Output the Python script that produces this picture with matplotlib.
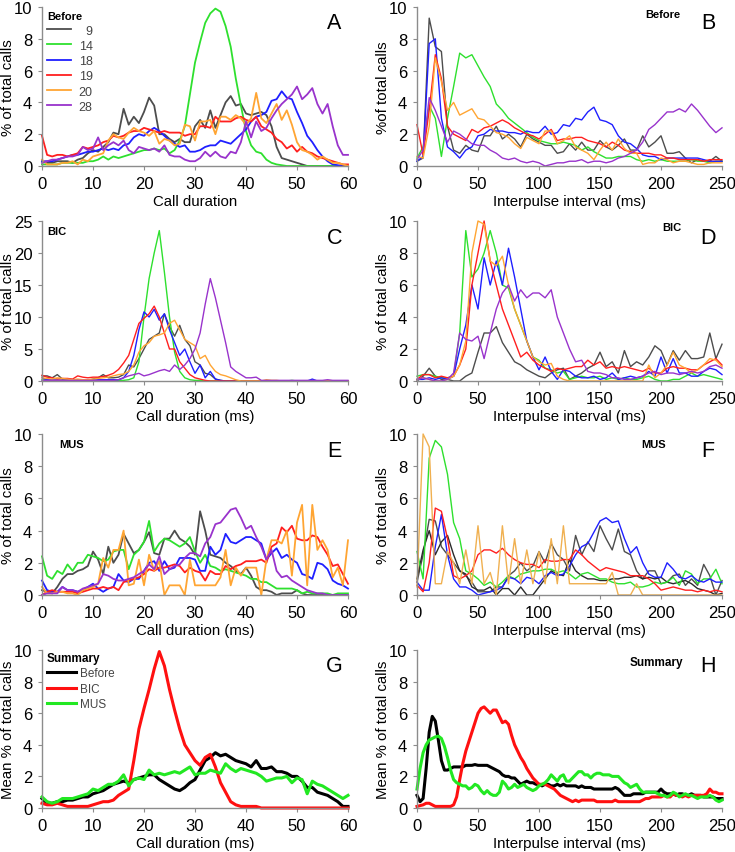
import numpy as np
import matplotlib
matplotlib.use("Agg")
import matplotlib.pyplot as plt

plt.rcParams['font.family'] = ['Liberation Sans', 'DejaVu Sans']

# ---------------- data ----------------
dur_x = np.arange(0, 61, 1)          # call duration bins (ms)
ipi_x = np.arange(0, 251, 5)         # interpulse interval bins (ms)
ipi_sum_x = np.arange(0, 250.1, 2.5) # summary interpulse bins (ms)

bat_labels = ['9', '14', '18', '19', '20', '28']

a9 = [0.3,0.2,0.2,0.3,0.3,0.3,0.2,0.4,0.5,0.8,
      1.0,0.9,1.2,1.5,2.1,2.0,3.6,2.6,3.1,2.7,
      3.4,4.3,3.8,2.0,2.0,1.7,1.5,1.7,1.5,1.5,
      2.5,2.9,2.4,3.5,2.4,3.2,4.0,4.4,3.8,3.9,
      3.3,3.2,3.3,3.4,3.2,2.5,1.2,0.5,0.4,0.3,
      0.2,0.1,0.0,0,0,0,0,0,0,0,
      0]
a14 = [0.1,0.1,0.1,0.1,0.2,0.2,0.2,0.2,0.2,0.3,
       0.3,0.4,0.6,0.4,0.6,0.5,0.6,0.7,0.8,0.9,
       1.0,1.0,1.1,1.0,1.1,0.8,1.0,1.6,2.5,4.5,
       6.5,7.8,9.0,9.6,9.9,9.7,8.8,7.5,5.5,3.8,
       2.2,1.3,0.9,0.8,0.4,0.2,0.1,0.05,0,0,
       0,0,0,0,0,0,0,0,0,0,
       0]
a18 = [0.3,0.3,0.3,0.4,0.5,0.6,0.7,0.7,0.8,0.9,
       0.9,1.0,1.1,1.0,1.1,1.0,1.3,1.4,1.8,2.0,
       1.9,2.2,2.4,2.2,1.9,1.6,1.4,1.2,1.3,0.9,
       0.9,1.0,1.2,1.3,1.3,1.6,1.5,1.4,1.7,2.0,
       2.3,2.8,3.1,3.2,3.4,4.1,4.2,4.7,4.3,4.2,
       3.4,2.7,1.9,1.5,1.0,0.6,0.3,0.1,0.05,0,
       0]
a19 = [1.9,0.7,0.6,0.7,0.7,0.6,0.7,0.8,1.2,1.1,
       1.2,1.3,1.5,1.6,1.9,1.8,1.9,2.1,2.2,2.2,
       2.4,2.3,2.2,2.1,2.2,2.1,2.1,2.1,1.9,2.0,
       2.0,2.5,2.5,2.4,3.1,2.8,2.8,2.8,3.0,3.1,
       2.9,2.8,3.1,2.5,2.3,2.1,1.7,1.5,1.1,1.3,
       0.9,1.2,0.9,0.8,0.6,0.5,0.4,0.3,0.2,0.1,
       0.1]
a20 = [0.4,0.1,0.1,0.1,0.2,0.2,0.3,0.1,0.4,0.3,
       0.6,0.7,0.8,1.6,2.0,1.8,1.7,2.1,2.4,2.2,
       2.1,1.9,2.2,1.4,1.7,1.6,1.3,1.4,2.6,2.5,
       1.6,2.8,2.8,2.9,2.0,3.1,3.1,2.9,3.2,3.0,
       2.6,3.0,4.6,3.0,2.7,3.3,3.9,2.9,3.5,2.6,
       1.5,1.0,0.9,0.7,0.4,0.6,0.4,0.2,0.2,0.1,
       0.0]
a28 = [0.2,0.3,0.4,0.4,0.5,0.6,0.6,0.7,1.2,1.0,
       1.1,1.8,1.0,1.3,1.5,1.3,1.6,1.0,0.8,1.2,
       1.1,1.0,1.1,0.9,1.3,0.7,0.6,0.6,0.4,0.3,
       0.3,0.5,0.9,0.6,0.9,0.6,0.5,0.9,0.8,1.5,
       2.8,1.8,2.8,2.2,2.4,3.0,3.5,3.9,4.2,4.5,
       5.0,4.2,4.5,4.9,3.9,3.3,3.9,2.5,1.3,0.7,
       0.7]

b9 = [0.3,0.5,9.3,7.5,7.2,2.5,1.0,0.8,1.3,1.0,
      0.9,1.9,1.9,2.5,1.7,2.0,1.7,1.2,2.0,1.7,
      1.5,1.3,1.3,0.8,0.9,1.4,1.0,1.5,1.0,1.0,
      1.6,1.2,1.0,1.3,1.7,1.0,1.0,1.9,1.2,1.5,
      1.9,0.8,0.8,0.9,0.5,0.2,0.4,0.3,0.3,0.6,
      0.3]
b14 = [0.5,1.2,3.8,3.0,0.6,3.0,5.0,7.1,6.8,7.0,
       6.3,5.6,5.0,3.9,3.5,3.0,2.7,2.4,2.1,1.8,
       1.6,1.5,1.4,1.4,1.5,1.4,1.3,1.0,1.2,0.9,
       0.7,0.5,0.5,0.6,0.6,0.6,0.4,0.3,0.4,0.3,
       0.4,0.3,0.3,0.3,0.3,0.4,0.3,0.3,0.2,0.3,
       0.3]
b18 = [0.3,0.6,7.7,8.0,3.0,1.2,0.9,0.5,1.0,1.2,
       1.9,2.0,2.3,2.2,2.2,2.1,2.1,2.0,2.2,2.1,
       2.1,2.5,2.0,2.1,2.6,2.5,3.0,2.9,3.4,3.7,
       2.9,2.8,2.6,1.9,1.5,1.4,1.1,0.7,0.6,0.6,
       0.4,0.5,0.5,0.5,0.5,0.5,0.5,0.4,0.3,0.3,
       0.3]
b19 = [2.6,0.7,3.5,7.0,5.5,2.5,2.0,1.8,1.6,2.3,
       2.1,2.4,2.5,2.7,2.9,2.7,2.4,2.2,2.0,1.9,
       1.7,2.0,2.3,1.6,1.7,1.7,1.8,1.8,1.6,1.5,
       1.4,1.2,1.5,1.3,1.0,0.9,0.8,0.8,0.8,0.7,
       0.7,0.5,0.5,0.4,0.4,0.4,0.4,0.3,0.4,0.4,
       0.4]
b20 = [0.6,0.5,2.5,6.8,5.3,3.5,4.0,3.2,3.4,3.6,
       3.0,2.9,2.5,2.1,2.0,1.8,1.4,1.1,1.8,1.6,
       1.4,2.2,2.2,1.4,1.6,1.9,1.2,1.0,0.8,0.4,
       1.0,1.5,1.0,1.7,1.1,0.8,0.8,0.1,0.2,0.2,
       0.5,0.4,0.2,0.3,0.3,0.2,0.1,0.1,0.2,0.2,
       0.2]
b28 = [0.4,1.0,4.3,3.5,2.5,1.5,2.2,2.0,1.7,1.4,
       1.3,1.3,1.0,0.8,0.5,0.4,0.5,0.3,0.2,0.3,
       0.2,0.0,0.1,0.2,0.2,0.3,0.3,0.4,0.2,0.3,
       0.3,0.2,0.3,0.5,0.6,0.8,1.0,1.5,2.3,2.6,
       3.0,3.4,3.4,3.6,3.4,3.9,3.5,3.0,2.5,2.1,
       2.4]

c9 = [0.8,0.8,0.5,1.0,0.3,0.3,0.2,0.1,0.1,0.1,
      0.3,0.5,1.0,0.5,0.5,0.6,1.0,2.5,2.2,3.5,
      5.0,6.5,7.0,7.5,10.5,8.5,7.0,8.7,6.5,5.5,
      3.0,2.5,1.2,1.0,0.3,0.1,0,0,0,0,
      0,0,0,0,0,0,0,0,0,0,
      0,0,0,0,0,0,0,0,0,0,
      0]
c14 = [0.2,0.2,0.1,0.1,0.1,0.1,0.1,0.1,0.1,0.1,
       0.1,0.1,0.1,0.1,0.1,0.1,0.1,0.2,0.5,3.0,
       10.0,16.0,20.0,23.5,17.0,10.0,4.5,1.5,0.5,0.2,
       0.1,0.1,0,0,0,0,0,0,0,0,
       0,0,0,0,0,0,0,0,0,0.1,
       0,0,0,0,0,0,0,0,0,0,
       0]
c18 = [0.5,0.2,0.2,0.1,0.1,0.1,0.1,0.1,0.1,0.1,
       0.1,0.2,0.2,0.2,0.2,0.2,0.5,1.5,4.0,8.0,
       10.8,10.0,11.2,9.5,10.5,8.0,6.0,4.0,5.0,3.0,
       1.2,2.5,0.5,1.5,0.3,0.1,0,0,0,0,
       0,0,0,0,0,0,0,0,0,0,
       0,0,0,0.3,0,0,0,0,0,0,
       0]
c19 = [0.9,0.6,0.5,0.3,0.4,0.4,0.3,0.8,0.6,0.5,
       0.6,0.6,0.7,0.9,1.2,1.8,2.8,4.0,6.5,9.0,
       9.8,10.5,11.7,10.0,7.5,5.0,5.0,3.0,2.0,1.0,
       0.5,0.3,0.1,0,0,0,0,0,0,0,
       0,0,0,0,0,0,0,0,0,0,
       0,0,0,0,0,0,0,0,0,0,
       0]
c20 = [0.5,0.4,0.3,0.5,0.4,0.3,0.2,0.3,0.2,0.2,
       0.3,0.4,0.5,0.6,0.8,1.0,1.1,1.5,2.5,4.5,
       5.5,6.0,7.0,7.2,7.5,9.0,9.5,8.0,6.5,6.0,
       5.5,3.5,4.0,2.5,1.5,1.0,0.8,0.5,0.2,0,
       0,0,0,0,0.2,0.1,0.1,0,0,0,
       0,0,0,0,0,0,0,0,0,0,
       0]
c28 = [0.1,0.1,0.1,0.1,0.1,0.1,0.1,0.1,0.1,0.1,
       0.1,0.1,0.1,0.1,0.1,0.2,0.5,0.8,1.0,1.2,
       0.8,1.0,1.3,1.6,1.8,1.5,2.5,1.8,2.5,3.5,
       5.0,7.5,12.0,16.0,13.0,9.5,6.0,2.2,1.5,1.0,
       0.5,0.5,0.6,0.1,0.1,0.1,0.1,0.1,0.1,0.1,
       0.1,0.1,0.1,0.1,0.1,0.1,0.2,0.1,0.1,0.1,
       0.1]

d9 = [0.0,0.3,0.8,0.3,0.1,0.1,0.0,0.0,0.3,0.5,
      1.8,3.0,3.0,3.4,2.4,1.8,1.2,1.0,0.7,0.5,
      0.3,0.2,0.5,0.7,0.8,0.1,0.3,0.5,0.8,1.0,
      1.8,0.9,1.2,0.5,1.9,0.9,1.2,1.0,1.5,2.2,
      1.9,1.0,1.9,1.3,1.9,1.4,1.4,1.5,3.0,1.4,
      2.3]
d14 = [0.3,0.4,0.4,0.3,0.2,0.2,0.3,3.0,9.4,6.5,
       7.0,8.0,9.4,8.0,6.0,5.8,4.5,3.5,2.5,1.5,
       1.3,0.8,0.7,0.5,0.6,0.1,0.2,0.3,0.2,0.2,
       0.3,0.1,0.2,0.1,0.2,0.1,0.1,0.2,0.3,0.1,
       0.0,0.0,0.1,0.1,0.3,0.5,0.3,0.4,0.3,0.2,
       0.1]
d18 = [0.1,0.1,0.2,0.1,0.2,0.1,0.3,2.0,3.5,6.0,
       4.5,7.7,6.0,7.5,6.0,8.3,6.5,4.5,2.5,1.5,
       0.7,1.5,0.6,0.1,0.7,0.6,0.3,0.2,0.2,0.3,
       0.1,0.2,0.5,0.1,0.2,0.3,0.2,0.3,0.6,0.3,
       1.5,0.5,1.4,0.5,0.5,0.3,0.3,0.6,0.8,0.7,
       0.4]
d19 = [0.1,0.4,0.4,0.2,0.3,0.2,0.3,1.0,2.0,6.0,
       8.0,10.0,7.5,6.0,4.5,3.5,2.5,1.5,1.8,1.3,
       1.0,0.8,0.6,0.8,0.7,0.8,0.9,0.9,1.3,1.0,
       1.2,0.8,0.9,0.8,0.9,0.8,0.7,0.6,0.8,0.5,
       0.5,0.8,0.9,0.8,0.8,0.7,0.7,1.0,1.2,1.4,
       1.0]
d20 = [0.1,0.2,0.1,0.0,0.0,0.1,0.3,1.0,2.5,8.0,
       10.0,9.8,7.5,7.2,7.8,6.0,4.5,3.5,2.5,1.5,
       1.2,1.0,1.1,0.3,0.1,0.0,0.0,0.0,0.0,0.0,
       0.0,0.0,0.0,0.0,0.0,0.0,0.0,0.0,1.0,0.2,
       0.5,1.0,1.8,1.0,0.8,0.5,0.7,1.0,1.4,1.3,
       0.9]
d28 = [0.1,0.2,0.1,0.0,0.0,0.1,0.5,3.0,2.6,2.5,
       2.8,1.4,3.0,4.5,5.5,6.0,5.0,5.7,5.2,5.5,
       5.5,5.2,5.7,4.0,3.0,2.0,1.2,1.3,0.6,0.5,
       0.5,0.4,0.2,0.2,0.1,0.1,0.2,0.3,0.5,0.6,
       0.4,0.5,0.5,0.4,0.5,0.6,0.5,0.6,0.9,1.0,
       0.8]

e9 = [0.3,0.2,0.1,0.5,1.0,1.3,1.3,1.5,1.6,1.8,
      2.7,2.2,1.3,3.0,2.0,2.5,3.8,3.2,2.6,2.8,
      3.3,3.9,2.6,2.5,3.5,3.5,4.0,3.5,3.3,3.0,
      2.5,5.2,4.0,2.5,2.4,2.3,2.0,1.8,1.5,1.3,
      1.7,1.2,0.5,0.3,0.3,0.2,0.0,0.1,0.1,0.1,
      0.3,0.1,0,0,0,0,0,0,0,0,
      0]
e14 = [2.4,1.2,1.0,1.5,1.3,1.9,1.5,2.0,2.0,2.5,
       2.4,2.3,2.1,2.2,2.7,2.8,2.8,1.6,2.5,2.8,
       3.3,4.6,2.7,3.2,3.5,3.4,3.2,3.0,3.2,3.6,
       2.7,2.0,2.5,1.8,1.7,1.5,1.6,1.5,1.4,1.3,
       1.2,1.0,1.0,0.8,0.8,0.6,0.4,0.4,0.4,0.4,
       0.3,0.1,0.2,0.1,0.1,0.1,0.1,0.0,0.1,0.1,
       0.1]
e18 = [0.9,0.3,0.2,0.2,0.5,0.3,0.3,0.2,0.3,0.5,
       0.7,0.4,0.2,0.4,0.5,1.3,0.9,0.8,1.0,1.0,
       1.5,2.0,2.1,1.5,2.1,1.6,1.7,2.3,2.3,2.3,
       2.2,1.5,1.5,3.0,2.5,2.8,3.8,3.3,3.2,3.4,
       3.6,3.6,3.4,3.2,2.2,2.6,2.9,2.3,2.5,2.2,
       2.0,1.3,1.2,1.0,2.0,1.9,1.6,0.9,0.7,0.6,
       0.4]
e19 = [0.0,0.2,0.3,0.2,0.2,0.2,0.2,0.1,0.2,0.3,
       0.4,0.4,0.5,0.4,0.5,0.3,0.8,0.9,1.0,1.1,
       1.3,1.6,1.5,1.7,1.7,1.8,1.9,1.8,1.4,1.7,
       1.5,1.4,0.9,1.5,1.3,1.3,1.8,1.6,1.8,1.9,
       2.1,2.1,2.1,2.2,2.0,3.0,3.2,4.2,3.9,4.3,
       3.5,3.4,3.4,3.7,3.6,3.0,2.5,1.8,1.9,1.3,
       0.7]
e20 = [0.5,0.1,0.1,0.2,0.2,0.1,0.1,0.0,0.3,0.4,
       0.5,0.7,2.3,1.7,2.8,2.8,4.0,0.6,0.7,2.2,
       0.6,2.5,1.5,2.1,0.0,0.6,0.6,0.6,0.0,2.2,
       0.6,0.6,0.6,0.6,0.6,1.1,2.8,0.6,1.7,1.2,
       1.7,1.7,1.7,0.0,2.2,3.4,3.4,3.2,4.0,1.2,
       4.5,5.6,0.6,5.6,2.8,3.4,2.8,1.1,1.7,0.6,
       3.4]
e28 = [0.0,0.1,0.1,0.1,0.5,0.3,0.3,0.2,0.4,0.5,
       0.6,0.7,1.3,1.2,1.0,0.9,0.9,1.0,1.1,1.3,
       1.5,1.9,1.6,2.4,1.3,1.6,1.8,1.9,2.3,2.6,
       2.6,2.4,3.2,3.6,4.4,4.5,4.9,5.3,5.4,4.8,
       4.1,4.3,3.6,3.0,2.2,2.8,1.5,1.1,1.2,0.9,
       0.7,0.5,0.3,0.2,0.1,0.1,0.0,0.0,0.0,0.0,
       0.0]

f9 = [0.8,2.5,4.7,4.6,3.0,2.5,2.0,1.5,1.2,0.8,
      0.2,0.2,0.2,0.5,0.5,1.2,1.5,2.0,1.5,1.8,
      2.7,2.0,3.2,2.5,2.2,1.5,3.7,2.5,3.3,2.7,
      4.3,3.5,2.8,4.1,2.7,2.5,1.5,1.0,1.5,1.5,
      0.7,0.8,1.2,1.3,0.6,1.0,0.6,1.9,1.2,0.0,
      0.9]
f9b = [1.0,2.8,4.0,2.5,3.3,3.7,2.5,1.5,1.3,0.5,
       0.3,0.3,0.5,0.0,0.4,0.4,0.0,0.5,0.0,0.0,
       0.5,1.0,1.5,1.3,1.2,2.2,1.5,1.2,1.0,1.0,
       0.9,0.9,1.0,1.0,1.1,1.1,1.2,1.0,1.1,1.0,
       1.1,0.8,0.7,0.8,0.9,0.7,0.4,0.3,0.2,0.0,
       0.1]
f14 = [2.7,1.0,8.5,9.6,9.2,7.5,4.5,3.5,1.5,1.3,
       1.0,0.6,0.8,0.5,0.8,1.2,1.0,1.3,1.4,1.5,
       1.5,1.6,1.6,1.4,1.5,1.3,1.0,1.3,1.4,1.2,
       1.0,1.0,0.8,0.7,0.7,0.8,0.5,0.5,0.6,0.8,
       0.7,0.8,1.1,0.6,1.5,1.3,0.7,1.0,1.0,1.6,
       0.7]
f18 = [0.8,0.3,0.3,3.0,5.0,2.5,1.0,0.5,0.5,0.3,
       0.0,0.1,0.2,0.3,0.5,1.1,1.0,0.7,1.1,1.0,
       0.7,1.2,1.4,1.2,1.3,1.8,2.5,3.0,3.2,3.9,
       4.6,4.8,4.5,4.6,3.5,2.6,3.0,2.0,1.3,1.1,
       1.1,2.0,1.6,1.1,1.0,1.2,0.9,0.8,1.0,0.8,
       0.8]
f19 = [0.6,0.2,2.0,5.4,5.2,3.5,1.2,1.0,1.2,1.5,
       2.5,2.8,2.8,2.6,2.9,2.5,2.2,2.0,1.9,1.9,
       1.7,2.2,2.1,2.1,2.2,2.2,2.8,2.5,2.1,1.8,
       1.5,1.7,1.6,1.5,1.4,1.2,1.2,1.2,1.0,0.7,
       0.3,0.4,0.5,0.4,0.3,0.3,0.2,0.3,0.2,0.3,
       0.2]
f20 = [0.5,10.0,9.2,0.7,0.7,2.7,2.0,0.7,2.8,0.7,
       4.3,0.7,1.4,0.0,4.3,0.7,3.5,0.7,2.8,0.7,
       2.7,0.7,3.5,0.7,4.3,0.7,0.7,0.7,0.7,0.7,
       0.7,0.7,1.4,0.0,0.0,0.0,0.7,0.0,0.0,0.0,
       0.0,0.0,0.0,0.0,0.0,0.0,0.0,0.0,0.0,0.0,
       0.0]

g_before = [0.6,0.3,0.3,0.4,0.4,0.5,0.5,0.6,0.7,0.7,
            0.9,1.0,1.1,1.3,1.5,1.6,1.7,1.6,1.8,1.9,
            2.0,2.1,2.1,1.8,1.6,1.4,1.2,1.1,1.3,1.6,
            1.8,2.4,3.0,3.2,3.5,3.3,3.4,3.2,3.0,2.9,
            2.8,2.6,3.0,2.5,2.5,2.6,2.3,2.3,2.2,2.0,
            2.0,1.7,1.3,1.3,1.0,0.9,0.8,0.6,0.4,0.1,
            0.1]
g_bic = [0.3,0.2,0.2,0.3,0.2,0.1,0.1,0.1,0.1,0.1,
         0.2,0.3,0.4,0.4,0.5,0.8,1.0,1.2,3.0,5.0,
         6.3,7.5,8.8,9.9,9.0,7.5,6.2,5.0,4.0,3.5,
         3.0,2.7,3.2,3.4,2.6,1.6,1.0,0.4,0.2,0.1,
         0.1,0.1,0.1,0,0,0,0,0,0,0,
         0,0,0,0,0,0,0,0,0,0,
         0]
g_mus = [0.7,0.4,0.3,0.4,0.6,0.6,0.6,0.7,0.8,0.9,
         1.2,1.1,1.3,1.5,1.5,1.7,2.1,1.4,1.8,1.9,
         1.8,2.4,2.1,2.2,2.1,2.2,2.3,2.2,2.4,2.6,
         2.1,2.2,2.2,2.4,2.3,2.2,2.8,2.5,2.3,2.5,
         2.4,2.3,2.2,2.0,1.7,1.8,1.9,1.9,2.0,1.6,
         1.9,1.8,0.9,1.7,1.5,1.4,1.2,1.0,0.8,0.6,
         0.8]

h_before = [0.8,0.4,0.6,2.5,4.8,5.8,5.5,4.3,3.0,2.4,
            2.4,2.5,2.6,2.6,2.6,2.6,2.7,2.7,2.7,2.75,
            2.7,2.7,2.7,2.7,2.6,2.5,2.4,2.3,2.1,2.0,
            2.0,1.9,1.9,1.7,1.5,1.6,1.7,1.6,1.6,1.5,
            1.5,1.4,1.5,1.5,1.4,1.4,1.5,1.4,1.5,1.4,
            1.4,1.4,1.4,1.3,1.4,1.3,1.3,1.3,1.2,1.2,
            1.2,1.2,1.2,1.2,1.2,1.3,1.2,1.0,0.8,0.8,
            0.8,0.9,0.9,0.9,0.9,1.0,1.0,1.0,1.0,1.0,
            1.2,1.0,0.9,0.9,0.9,0.8,0.9,0.9,0.8,0.8,
            0.9,0.8,0.8,0.8,0.7,0.7,0.7,0.7,0.6,0.6,
            0.6]
h_bic = [0.1,0.15,0.2,0.3,0.3,0.2,0.1,0.1,0.1,0.1,
         0.1,0.1,0.2,0.7,1.8,2.8,3.6,4.2,4.8,5.4,
         6.0,6.3,6.4,6.2,6.0,6.2,6.2,5.8,5.4,5.5,
         5.3,4.6,4.0,3.6,3.2,2.9,2.5,2.2,1.9,1.7,
         1.5,1.5,1.5,1.4,1.3,1.2,1.0,0.8,0.7,0.6,
         0.5,0.4,0.5,0.4,0.5,0.5,0.5,0.5,0.5,0.4,
         0.4,0.4,0.4,0.4,0.4,0.5,0.4,0.4,0.4,0.4,
         0.4,0.4,0.4,0.4,0.5,0.6,0.6,0.7,0.7,0.7,
         0.7,0.8,0.7,0.7,0.9,0.8,0.8,0.7,0.8,0.7,
         0.8,0.8,0.8,0.8,0.8,0.9,1.2,1.0,1.0,0.9,
         0.9]
h_mus = [1.2,2.5,3.5,4.0,4.3,4.4,4.5,4.55,4.4,3.9,
         3.2,2.4,1.8,1.6,1.5,1.4,1.4,1.2,1.3,1.5,
         1.4,1.1,0.9,1.1,0.9,0.8,0.8,1.0,1.7,1.5,
         1.2,1.3,1.5,1.3,1.4,1.5,1.3,1.2,1.1,1.2,
         1.4,1.5,1.6,1.8,2.1,1.9,1.7,2.0,2.1,1.7,
         1.7,1.9,2.1,2.3,2.3,2.1,2.1,1.9,2.1,2.2,
         2.2,2.1,2.1,2.1,2.0,2.0,2.0,1.8,1.6,1.5,
         1.3,1.4,1.5,1.2,1.0,1.0,1.0,1.0,1.0,0.9,
         0.8,0.8,0.7,0.8,1.0,0.9,0.7,0.8,0.9,0.8,
         0.8,0.7,0.6,0.7,0.7,0.7,0.8,0.7,0.5,0.4,
         0.5]

# ---------------- styling ----------------
bat_colors = ['#4d4d4d', '#2ee02e', '#1f1fff', '#ff1f1f', '#ffa533', '#9933cc']
F_colors = ['#4d4d4d', '#2b2b2b', '#2ee02e', '#1f1fff', '#ff1f1f', '#f0b050']
sum_colors = ['#000000', '#ff1010', '#22e822']
sum_labels = ['Before', 'BIC', 'MUS']
spine_col = '#8c8c8c'

fig = plt.figure(figsize=(7.35, 8.53), dpi=100)
W, H = 735.0, 853.0

def make_ax(x0, x1, ytop, ybot):
    return fig.add_axes([x0 / W, 1 - ybot / H, (x1 - x0) / W, (ybot - ytop) / H])

LX0, LX1 = 42, 348
RX0, RX1 = 417, 722
rows = [(8, 167), (222, 382), (435, 596), (651, 809)]

axA = make_ax(LX0, LX1, *rows[0]); axB = make_ax(RX0, RX1, *rows[0])
axC = make_ax(LX0, LX1, *rows[1]); axD = make_ax(RX0, RX1, *rows[1])
axE = make_ax(LX0, LX1, *rows[2]); axF = make_ax(RX0, RX1, *rows[2])
axG = make_ax(LX0, LX1, *rows[3]); axH = make_ax(RX0, RX1, *rows[3])

def style(ax, xmax, xstep, ymax, ystep, xlabel, ylabel, letter):
    ax.set_xlim(0, xmax)
    ax.set_ylim(0, ymax)
    ax.set_xticks(np.arange(0, xmax + 0.1, xstep))
    ax.set_yticks(np.arange(0, ymax + 0.1, ystep))
    for s in ['top', 'right']:
        ax.spines[s].set_visible(False)
    for s in ['left', 'bottom']:
        ax.spines[s].set_color(spine_col)
        ax.spines[s].set_linewidth(1.0)
    ax.tick_params(direction='out', length=3, width=0.8, color=spine_col,
                   labelsize=12)
    ax.tick_params(axis='x', pad=4.5)
    ax.tick_params(axis='y', pad=4)
    ax.set_xlabel(xlabel, fontsize=10.8, labelpad=2)
    ax.set_ylabel(ylabel, fontsize=10.8)
    # right edge of the rotated label ~27 px left of the axis line
    ax.yaxis.set_label_coords(-27.0 / 306.0, 0.5)
    ax.text(0.955, 0.9, letter, transform=ax.transAxes, fontsize=15.5,
            ha='center', va='center')

def draw(ax, x, series, colors, lw=1.0):
    for y, c in zip(series, colors):
        ax.plot(x, y, color=c, lw=lw, clip_on=False)

# A
linesA = []
for y, c in zip([a9, a14, a18, a19, a20, a28], bat_colors):
    l, = axA.plot(dur_x, y, color=c, lw=1.3, clip_on=False)
    linesA.append(l)
style(axA, 60, 10, 10, 2, 'Call duration', '% of total calls', 'A')
axA.legend(linesA, ['  ' + l if len(l) == 1 else l for l in bat_labels],
           loc='upper left', bbox_to_anchor=(0.01, 0.985), frameon=False,
           fontsize=9, handlelength=1.9, handletextpad=0.65,
           labelspacing=0.26, borderaxespad=0.0, borderpad=0.15,
           title='Before', alignment='left', labelcolor='#444444',
           title_fontproperties={'weight': 'bold', 'size': 8})

# B
draw(axB, ipi_x, [b9, b14, b18, b19, b20, b28], bat_colors, lw=1.0)
style(axB, 250, 50, 10, 2, 'Interpulse interval (ms)', '%of total calls', 'B')
axB.text(0.805, 0.955, 'Before', transform=axB.transAxes, fontsize=8,
         fontweight='bold', ha='center', va='center')

# C
draw(axC, dur_x, [c9, c14, c18, c19, c20, c28], bat_colors, lw=1.0)
style(axC, 60, 10, 25, 5, 'Call duration (ms)', '% of total calls', 'C')
axC.text(0.018, 0.94, 'BIC', transform=axC.transAxes, fontsize=8,
         fontweight='bold', ha='left', va='center')

# D
draw(axD, ipi_x, [d9, d14, d18, d19, d20, d28], bat_colors, lw=1.0)
style(axD, 250, 50, 10, 2, 'Interpulse interval (ms)', '% of total calls', 'D')
axD.text(0.835, 0.96, 'BIC', transform=axD.transAxes, fontsize=8,
         fontweight='bold', ha='center', va='center')

# E
draw(axE, dur_x, [e9, e14, e18, e19, e20, e28], bat_colors, lw=1.3)
style(axE, 60, 10, 10, 2, 'Call duration (ms)', '% of total calls', 'E')
axE.text(0.055, 0.94, 'MUS', transform=axE.transAxes, fontsize=8,
         fontweight='bold', ha='left', va='center')

# F
draw(axF, ipi_x, [f9, f9b, f14, f18, f19, f20], F_colors, lw=1.0)
style(axF, 250, 50, 10, 2, 'Interpulse interval (ms)', '% of total calls', 'F')
axF.text(0.775, 0.94, 'MUS', transform=axF.transAxes, fontsize=8,
         fontweight='bold', ha='center', va='center')

# G
linesG = []
for y, c in zip([g_before, g_bic, g_mus], sum_colors):
    l, = axG.plot(dur_x, y, color=c, lw=2.2, clip_on=False)
    linesG.append(l)
style(axG, 60, 10, 10, 2, 'Call duration (ms)', 'Mean % of total calls', 'G')
axG.legend(linesG, sum_labels, loc='upper left', bbox_to_anchor=(0.01, 1.0),
           frameon=False, fontsize=8.5, handlelength=2.5, handletextpad=0.3,
           labelspacing=0.3, borderaxespad=0.0, borderpad=0.15,
           title='Summary', alignment='left', labelcolor='#444444',
           title_fontproperties={'weight': 'bold', 'size': 8.5})

# H
for y, c in zip([h_before, h_bic, h_mus], sum_colors):
    axH.plot(ipi_sum_x, y, color=c, lw=2.2, clip_on=False)
style(axH, 250, 50, 10, 2, 'Interpulse interval (ms)', 'Mean % of total calls', 'H')
axH.text(0.785, 0.925, 'Summary', transform=axH.transAxes, fontsize=8.5,
         fontweight='bold', ha='center', va='center')

fig.savefig('out.png', dpi=100)
